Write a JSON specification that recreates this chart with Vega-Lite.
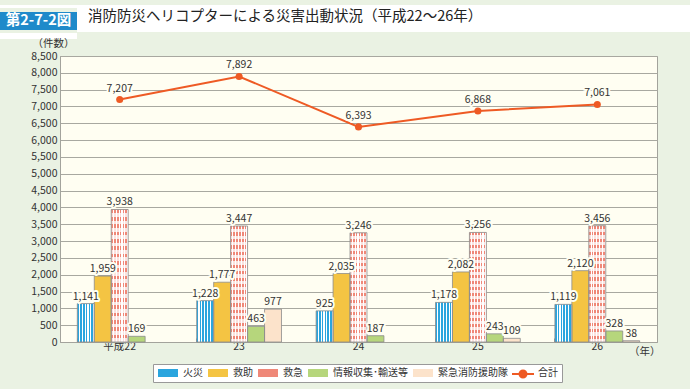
{
  "$schema": "https://vega.github.io/schema/vega-lite/v6.json",
  "background": "#EAF2E3",
  "padding": {"left": 0, "top": 0, "right": 0, "bottom": 11},
  "spacing": -4,
  "config": {
    "font": "Noto Sans CJK JP",
    "view": {"stroke": null},
    "axis": {"labelFont": "Noto Sans CJK JP", "titleFont": "Noto Sans CJK JP"},
    "legend": {"labelFont": "Noto Sans CJK JP"}
  },
  "datasets": {
    "bars": [
      {"year": "平成22", "cat": "火災", "v": 1141},
      {"year": "平成22", "cat": "救助", "v": 1959},
      {"year": "平成22", "cat": "救急", "v": 3938},
      {"year": "平成22", "cat": "情報収集･輸送等", "v": 169},
      {"year": "23", "cat": "火災", "v": 1228},
      {"year": "23", "cat": "救助", "v": 1777},
      {"year": "23", "cat": "救急", "v": 3447},
      {"year": "23", "cat": "情報収集･輸送等", "v": 463},
      {"year": "23", "cat": "緊急消防援助隊", "v": 977},
      {"year": "24", "cat": "火災", "v": 925},
      {"year": "24", "cat": "救助", "v": 2035},
      {"year": "24", "cat": "救急", "v": 3246},
      {"year": "24", "cat": "情報収集･輸送等", "v": 187},
      {"year": "25", "cat": "火災", "v": 1178},
      {"year": "25", "cat": "救助", "v": 2082},
      {"year": "25", "cat": "救急", "v": 3256},
      {"year": "25", "cat": "情報収集･輸送等", "v": 243},
      {"year": "25", "cat": "緊急消防援助隊", "v": 109},
      {"year": "26", "cat": "火災", "v": 1119},
      {"year": "26", "cat": "救助", "v": 2120},
      {"year": "26", "cat": "救急", "v": 3456},
      {"year": "26", "cat": "情報収集･輸送等", "v": 328},
      {"year": "26", "cat": "緊急消防援助隊", "v": 38}
    ],
    "totals": [
      {"year": "平成22", "v": 7207},
      {"year": "23", "v": 7892},
      {"year": "24", "v": 6393},
      {"year": "25", "v": 6868},
      {"year": "26", "v": 7061}
    ]
  },
  "vconcat": [
    {
      "spacing": 0,
      "hconcat": [
        {
          "spacing": 0,
          "vconcat": [
            {"width": 77, "height": 3, "view": {"fill": "white", "stroke": null}, "data": {"values": [{}]}, "mark": {"type": "text"}, "encoding": {"text": {"value": ""}}},
            {"width": 77, "height": 18, "view": {"fill": "#1F8ACA", "stroke": null}, "data": {"values": [{}]}, "mark": {"type": "text", "color": "white", "fontSize": 14.5, "fontWeight": "bold", "baseline": "middle", "align": "center"}, "encoding": {"text": {"value": "第2-7-2図"}}},
            {"width": 77, "height": 6, "view": {"fill": "white", "stroke": null}, "data": {"values": [{}]}, "mark": {"type": "text"}, "encoding": {"text": {"value": ""}}}
          ]
        },
        {
          "width": 613, "height": 27,
          "view": {"fill": "white", "stroke": null},
          "data": {"values": [{}]},
          "mark": {"type": "text", "color": "#222", "fontSize": 14.5, "align": "left", "baseline": "middle"},
          "encoding": {"text": {"value": "消防防災ヘリコプターによる災害出動状況（平成22～26年）"}, "x": {"value": 11}, "y": {"value": 12}}
        }
      ]
    },
    {
      "bounds": "flush",
      "spacing": 0,
      "hconcat": [
        {"width": 60, "height": 286, "data": {"values": [{}]}, "mark": {"type": "text"}, "encoding": {"text": {"value": ""}}},
        {
          "width": 597,
          "height": 286,
          "view": {"fill": "#FFFEF2", "stroke": "#A3A39C"},
          "encoding": {
            "x": {
              "field": "year", "type": "nominal",
              "scale": {"domain": ["平成22", "23", "24", "25", "26"], "paddingInner": 0.29, "paddingOuter": 0.145},
              "axis": {
                "title": "（年）", "titleX": 600, "titleY": 9, "titleAlign": "right", "titleBaseline": "middle",
                "titleFontWeight": "normal", "titleFontSize": 10.5, "titleColor": "#333",
                "labelAngle": 0, "labelFontSize": 10.5, "labelColor": "#333", "labelPadding": 3,
                "domainColor": "#A3A39C", "bandPosition": 0, "tickSize": -4, "tickColor": "#999"
              }
            },
            "y": {
              "field": "v", "type": "quantitative",
              "scale": {"domain": [0, 8500], "nice": false},
              "axis": {
                "title": "（件数）", "titleAngle": 0, "titleAlign": "left", "titleX": -28, "titleY": -13, "titleBaseline": "middle",
                "titleFontWeight": "normal", "titleFontSize": 10.5, "titleColor": "#333",
                "values": [0, 500, 1000, 1500, 2000, 2500, 3000, 3500, 4000, 4500, 5000, 5500, 6000, 6500, 7000, 7500, 8000, 8500],
                "format": ",d", "labelFontSize": 10.5, "labelColor": "#333", "ticks": false, "labelPadding": 3,
                "domainColor": "#A3A39C", "gridColor": "#A8A8A0", "gridWidth": 1
              }
            }
          },
          "layer": [
            {
              "data": {"name": "bars"},
              "mark": {"type": "bar", "strokeWidth": 0},
              "encoding": {
                "xOffset": {"field": "cat", "type": "nominal", "scale": {"domain": ["火災", "救助", "救急", "情報収集･輸送等", "緊急消防援助隊"], "paddingInner": 0, "paddingOuter": 0}},
                "color": {
                  "field": "cat", "type": "nominal",
                  "scale": {
                    "domain": ["火災", "救助", "救急", "情報収集･輸送等", "緊急消防援助隊", "合計"],
                    "range": ["#2AA5DE", "#F4C443", "#EF8878", "#B6D67C", "#FCE3CB", "rgba(0,0,0,0)"]
                  },
                  "legend": {
                    "orient": "none", "legendX": 153, "legendY": 359, "direction": "horizontal", "columns": 6, "title": null,
                    "symbolType": "M-2.5,-1H2.5V1H-2.5Z", "symbolSize": 64, "symbolOffset": 6, "symbolOpacity": 1,
                    "labelFontSize": 10, "labelColor": "#333", "labelOffset": 10, "columnPadding": 4,
                    "padding": 4, "fillColor": "white", "strokeColor": "#999"
                  }
                }
              }
            },
            {
              "data": {"name": "bars"},
              "transform": [{"filter": "datum.cat === '火災' || datum.cat === '救急'"}],
              "mark": {"type": "bar", "strokeWidth": 0, "fill": {"gradient": "linear", "x1": 0, "y1": 0, "x2": 1, "y2": 0, "stops": [
                {"offset": 0, "color": "rgba(255,255,255,0)"}, {"offset": 0.1, "color": "rgba(255,255,255,0)"}, {"offset": 0.1, "color": "#FFFFFF"}, {"offset": 0.1667, "color": "#FFFFFF"},
                {"offset": 0.1667, "color": "rgba(255,255,255,0)"}, {"offset": 0.2667, "color": "rgba(255,255,255,0)"}, {"offset": 0.2667, "color": "#FFFFFF"}, {"offset": 0.3333, "color": "#FFFFFF"},
                {"offset": 0.3333, "color": "rgba(255,255,255,0)"}, {"offset": 0.4333, "color": "rgba(255,255,255,0)"}, {"offset": 0.4333, "color": "#FFFFFF"}, {"offset": 0.5, "color": "#FFFFFF"},
                {"offset": 0.5, "color": "rgba(255,255,255,0)"}, {"offset": 0.6, "color": "rgba(255,255,255,0)"}, {"offset": 0.6, "color": "#FFFFFF"}, {"offset": 0.6667, "color": "#FFFFFF"},
                {"offset": 0.6667, "color": "rgba(255,255,255,0)"}, {"offset": 0.7667, "color": "rgba(255,255,255,0)"}, {"offset": 0.7667, "color": "#FFFFFF"}, {"offset": 0.8333, "color": "#FFFFFF"},
                {"offset": 0.8333, "color": "rgba(255,255,255,0)"}, {"offset": 0.9333, "color": "rgba(255,255,255,0)"}, {"offset": 0.9333, "color": "#FFFFFF"}, {"offset": 1, "color": "#FFFFFF"}
              ]}},
              "encoding": {
                "xOffset": {"field": "cat", "type": "nominal", "scale": {"domain": ["火災", "救助", "救急", "情報収集･輸送等", "緊急消防援助隊"], "paddingInner": 0, "paddingOuter": 0}}
              }
            },
            {
              "data": {"name": "bars"},
              "transform": [{"filter": "datum.cat === '救急'"}],
              "mark": {"type": "bar", "strokeWidth": 0, "fill": {"gradient": "linear", "x1": 0, "y1": 0, "x2": 0, "y2": 1, "stops": [
                {"offset": 0, "color": "rgba(255,255,255,0)"}, {"offset": 0.0278, "color": "rgba(255,255,255,0)"}, {"offset": 0.0278, "color": "rgba(255,255,255,0.75)"}, {"offset": 0.0556, "color": "rgba(255,255,255,0.75)"},
                {"offset": 0.0556, "color": "rgba(255,255,255,0)"}, {"offset": 0.0833, "color": "rgba(255,255,255,0)"}, {"offset": 0.0833, "color": "rgba(255,255,255,0.75)"}, {"offset": 0.1111, "color": "rgba(255,255,255,0.75)"},
                {"offset": 0.1111, "color": "rgba(255,255,255,0)"}, {"offset": 0.1389, "color": "rgba(255,255,255,0)"}, {"offset": 0.1389, "color": "rgba(255,255,255,0.75)"}, {"offset": 0.1667, "color": "rgba(255,255,255,0.75)"},
                {"offset": 0.1667, "color": "rgba(255,255,255,0)"}, {"offset": 0.1944, "color": "rgba(255,255,255,0)"}, {"offset": 0.1944, "color": "rgba(255,255,255,0.75)"}, {"offset": 0.2222, "color": "rgba(255,255,255,0.75)"},
                {"offset": 0.2222, "color": "rgba(255,255,255,0)"}, {"offset": 0.25, "color": "rgba(255,255,255,0)"}, {"offset": 0.25, "color": "rgba(255,255,255,0.75)"}, {"offset": 0.2778, "color": "rgba(255,255,255,0.75)"},
                {"offset": 0.2778, "color": "rgba(255,255,255,0)"}, {"offset": 0.3056, "color": "rgba(255,255,255,0)"}, {"offset": 0.3056, "color": "rgba(255,255,255,0.75)"}, {"offset": 0.3333, "color": "rgba(255,255,255,0.75)"},
                {"offset": 0.3333, "color": "rgba(255,255,255,0)"}, {"offset": 0.3611, "color": "rgba(255,255,255,0)"}, {"offset": 0.3611, "color": "rgba(255,255,255,0.75)"}, {"offset": 0.3889, "color": "rgba(255,255,255,0.75)"},
                {"offset": 0.3889, "color": "rgba(255,255,255,0)"}, {"offset": 0.4167, "color": "rgba(255,255,255,0)"}, {"offset": 0.4167, "color": "rgba(255,255,255,0.75)"}, {"offset": 0.4444, "color": "rgba(255,255,255,0.75)"},
                {"offset": 0.4444, "color": "rgba(255,255,255,0)"}, {"offset": 0.4722, "color": "rgba(255,255,255,0)"}, {"offset": 0.4722, "color": "rgba(255,255,255,0.75)"}, {"offset": 0.5, "color": "rgba(255,255,255,0.75)"},
                {"offset": 0.5, "color": "rgba(255,255,255,0)"}, {"offset": 0.5278, "color": "rgba(255,255,255,0)"}, {"offset": 0.5278, "color": "rgba(255,255,255,0.75)"}, {"offset": 0.5556, "color": "rgba(255,255,255,0.75)"},
                {"offset": 0.5556, "color": "rgba(255,255,255,0)"}, {"offset": 0.5833, "color": "rgba(255,255,255,0)"}, {"offset": 0.5833, "color": "rgba(255,255,255,0.75)"}, {"offset": 0.6111, "color": "rgba(255,255,255,0.75)"},
                {"offset": 0.6111, "color": "rgba(255,255,255,0)"}, {"offset": 0.6389, "color": "rgba(255,255,255,0)"}, {"offset": 0.6389, "color": "rgba(255,255,255,0.75)"}, {"offset": 0.6667, "color": "rgba(255,255,255,0.75)"},
                {"offset": 0.6667, "color": "rgba(255,255,255,0)"}, {"offset": 0.6944, "color": "rgba(255,255,255,0)"}, {"offset": 0.6944, "color": "rgba(255,255,255,0.75)"}, {"offset": 0.7222, "color": "rgba(255,255,255,0.75)"},
                {"offset": 0.7222, "color": "rgba(255,255,255,0)"}, {"offset": 0.75, "color": "rgba(255,255,255,0)"}, {"offset": 0.75, "color": "rgba(255,255,255,0.75)"}, {"offset": 0.7778, "color": "rgba(255,255,255,0.75)"},
                {"offset": 0.7778, "color": "rgba(255,255,255,0)"}, {"offset": 0.8056, "color": "rgba(255,255,255,0)"}, {"offset": 0.8056, "color": "rgba(255,255,255,0.75)"}, {"offset": 0.8333, "color": "rgba(255,255,255,0.75)"},
                {"offset": 0.8333, "color": "rgba(255,255,255,0)"}, {"offset": 0.8611, "color": "rgba(255,255,255,0)"}, {"offset": 0.8611, "color": "rgba(255,255,255,0.75)"}, {"offset": 0.8889, "color": "rgba(255,255,255,0.75)"},
                {"offset": 0.8889, "color": "rgba(255,255,255,0)"}, {"offset": 0.9167, "color": "rgba(255,255,255,0)"}, {"offset": 0.9167, "color": "rgba(255,255,255,0.75)"}, {"offset": 0.9444, "color": "rgba(255,255,255,0.75)"},
                {"offset": 0.9444, "color": "rgba(255,255,255,0)"}, {"offset": 0.9722, "color": "rgba(255,255,255,0)"}, {"offset": 0.9722, "color": "rgba(255,255,255,0.75)"}, {"offset": 1, "color": "rgba(255,255,255,0.75)"}
              ]}},
              "encoding": {
                "xOffset": {"field": "cat", "type": "nominal", "scale": {"domain": ["火災", "救助", "救急", "情報収集･輸送等", "緊急消防援助隊"], "paddingInner": 0, "paddingOuter": 0}}
              }
            },
            {
              "data": {"name": "bars"},
              "mark": {"type": "bar", "fill": "rgba(0,0,0,0)", "stroke": "#8C8C8C", "strokeWidth": 0.8},
              "encoding": {
                "xOffset": {"field": "cat", "type": "nominal", "scale": {"domain": ["火災", "救助", "救急", "情報収集･輸送等", "緊急消防援助隊"], "paddingInner": 0, "paddingOuter": 0}}
              }
            },
            {
              "data": {"name": "bars"},
              "mark": {"type": "text", "fontSize": 10.5, "baseline": "middle", "dy": -7, "color": "#FFFEF2", "stroke": "#FFFEF2", "strokeWidth": 4, "strokeJoin": "round"},
              "encoding": {
                "xOffset": {"field": "cat", "type": "nominal", "scale": {"domain": ["火災", "救助", "救急", "情報収集･輸送等", "緊急消防援助隊"], "paddingInner": 0, "paddingOuter": 0}},
                "text": {"field": "v", "type": "quantitative", "format": ","}
              }
            },
            {
              "data": {"name": "bars"},
              "mark": {"type": "text", "fontSize": 10.5, "baseline": "middle", "dy": -7, "color": "#333"},
              "encoding": {
                "xOffset": {"field": "cat", "type": "nominal", "scale": {"domain": ["火災", "救助", "救急", "情報収集･輸送等", "緊急消防援助隊"], "paddingInner": 0, "paddingOuter": 0}},
                "text": {"field": "v", "type": "quantitative", "format": ","}
              }
            },
            {
              "data": {"name": "totals"},
              "mark": {"type": "line", "strokeWidth": 2},
              "encoding": {
                "stroke": {
                  "datum": "合計", "type": "nominal",
                  "scale": {"domain": ["合計"], "range": ["#EE5A24"]},
                  "legend": {
                    "orient": "none", "legendX": 512, "legendY": 364, "title": null, "padding": 0,
                    "symbolType": "M-2.75,0H2.75M-0.875,0A0.875,0.875,0,1,1,0.875,0A0.875,0.875,0,1,1,-0.875,0Z",
                    "symbolSize": 64, "symbolOffset": 6, "symbolStrokeWidth": 2, "symbolFillColor": "#EE5A24", "symbolOpacity": 1,
                    "labelExpr": "''", "labelFontSize": 1
                  }
                }
              }
            },
            {
              "data": {"name": "totals"},
              "mark": {"type": "point", "filled": true, "size": 50, "opacity": 1, "color": "#EE5A24"}
            },
            {
              "data": {"name": "totals"},
              "mark": {"type": "text", "fontSize": 10.5, "baseline": "middle", "dy": -11, "color": "#FFFEF2", "stroke": "#FFFEF2", "strokeWidth": 4, "strokeJoin": "round"},
              "encoding": {"text": {"field": "v", "type": "quantitative", "format": ","}}
            },
            {
              "data": {"name": "totals"},
              "mark": {"type": "text", "fontSize": 10.5, "baseline": "middle", "dy": -11, "color": "#333"},
              "encoding": {"text": {"field": "v", "type": "quantitative", "format": ","}}
            }
          ]
        }
      ]
    }
  ]
}
